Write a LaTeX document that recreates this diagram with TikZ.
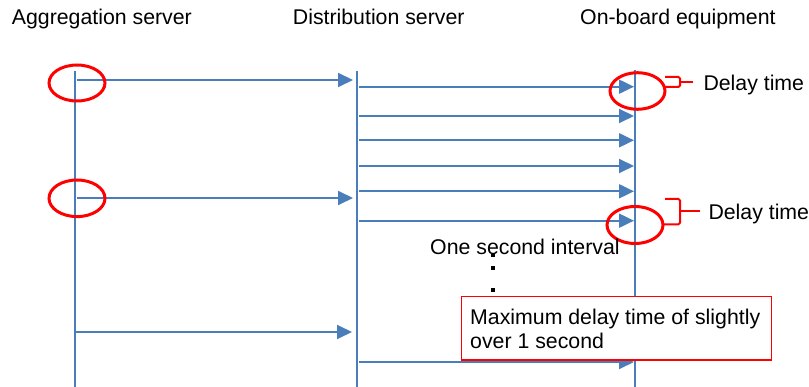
\documentclass[tikz,border=0pt]{standalone}
\usepackage{fontspec}
\setmainfont{Liberation Sans}
\usetikzlibrary{arrows.meta}
\definecolor{seqblue}{RGB}{74,126,187}
\definecolor{markred}{RGB}{255,0,0}
\tikzset{
  lifeline/.style={draw=seqblue, line width=2pt},
  msg/.style={draw=seqblue, line width=2pt, -{Triangle[length=15pt,width=14pt]}, shorten >=0pt},
  ringmark/.style={draw=markred, line width=3pt},
  bracketmark/.style={draw=markred, line width=2pt},
  lbl/.style={inner sep=0pt, font=\fontsize{21.3}{24}\selectfont},
  notebox/.style={draw=markred, line width=1.2pt, fill=white}
}
\begin{document}
\begin{tikzpicture}[x=1pt,y=-1pt]
\useasboundingbox (0,0) rectangle (809,387);

% column headings
\node[lbl, anchor=base west] (hAgg) at (11.7,25) {Aggregation server};
\node[lbl, anchor=base west] (hDist) at (292.7,25) {Distribution server};
\node[lbl, anchor=base west] (hObe) at (580,25) {On-board equipment};

% lifelines
\coordinate (aggTop) at (75,71);   \coordinate (aggBot) at (75,387);
\coordinate (distTop) at (357,71); \coordinate (distBot) at (357,387);
\coordinate (obeTop) at (635,70);  \coordinate (obeBot) at (635,387);
\draw[lifeline] (aggTop) -- (aggBot);
\draw[lifeline] (distTop) -- (distBot);
\draw[lifeline] (obeTop) -- (obeBot);

% aggregation -> distribution
\coordinate (a1s) at (77,80);  \coordinate (a1e) at (353,80);
\coordinate (a2s) at (77,198); \coordinate (a2e) at (353,198);
\coordinate (a3s) at (75,332); \coordinate (a3e) at (352,332);
\draw[msg] (a1s) -- (a1e);
\draw[msg] (a2s) -- (a2e);
\draw[msg] (a3s) -- (a3e);

% distribution -> on-board
\foreach \i/\yy in {1/86.7,2/116,3/140.3,4/166,5/191.3,6/220.7,7/362}{
  \coordinate (d\i s) at (359,\yy);
  \coordinate (d\i e) at (634,\yy);
  \draw[msg] (d\i s) -- (d\i e);
}

% red rings
\coordinate (r1) at (77,83);
\coordinate (r2) at (77,198.3);
\coordinate (r3) at (637.5,91);
\coordinate (r4) at (635,225);
\draw[ringmark] (r1) ellipse [x radius=28pt, y radius=18pt];
\draw[ringmark] (r2) ellipse [x radius=28pt, y radius=18.3pt];
\draw[ringmark] (r3) ellipse [x radius=27.5pt, y radius=18.3pt];
\draw[ringmark] (r4) ellipse [x radius=28pt, y radius=18.5pt];

% delay-time brackets
\coordinate (b1t) at (665,77);  \coordinate (b1b) at (665,87);
\coordinate (b1m) at (680,82.5); \coordinate (b1x) at (693,82.5);
\draw[bracketmark, rounded corners=1.5pt] (b1t) -- (680,77) -- (680,87) -- (b1b);
\draw[bracketmark] (b1m) -- (b1x);
\node[lbl, anchor=base west] (dl1) at (703.3,90.7) {Delay time};

\coordinate (b2t) at (665,199);  \coordinate (b2b) at (663,224.3);
\coordinate (b2m) at (680,211); \coordinate (b2x) at (700,211);
\draw[bracketmark, rounded corners=1.5pt] (b2t) -- (680,199) -- (680,224.3) -- (b2b);
\draw[bracketmark] (b2m) -- (b2x);
\node[lbl, anchor=base west] (dl2) at (708.3,220) {Delay time};

% interval label and continuation dots
\node[lbl, anchor=base west] (interval) at (430,255) {One second interval};
\foreach \yy/\nm in {255/dotA,268/dotB,290/dotC}{
  \fill (493,\yy) coordinate (\nm) +(-1.6,-2) rectangle +(1.6,2);
}

% note box
\draw[notebox] (461.7,296.7) rectangle (771.7,360);
\node[lbl, anchor=base west] (note) at (470,325) {Maximum delay time of slightly};
\node[lbl, anchor=base west] (note2) at (470,349) {over 1 second};
\end{tikzpicture}
\end{document}
